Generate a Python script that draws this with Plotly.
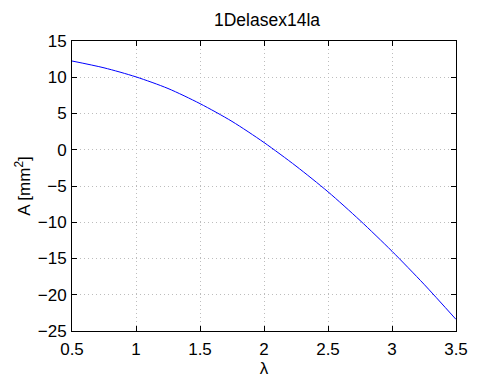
import plotly.graph_objects as go

lam = [0.5, 0.75, 1.0, 1.25, 1.5, 1.75, 2.0, 2.25, 2.5, 2.75, 3.0, 3.25, 3.5]
area = [12.24, 11.3, 10.05, 8.45, 6.36, 3.91, 1.0, -2.25, -5.8, -9.75, -14.0, -18.55, -23.4]
x_ticks = [0.5, 1, 1.5, 2, 2.5, 3, 3.5]
x_tick_text = ["0.5", "1", "1.5", "2", "2.5", "3", "3.5"]
y_ticks = [-25, -20, -15, -10, -5, 0, 5, 10, 15]
y_tick_text = ["\u221225", "\u221220", "\u221215", "\u221210", "\u22125", "0", "5", "10", "15"]

fig = go.Figure()
fig.add_trace(go.Scatter(x=lam, y=area, mode="lines", line=dict(color="#0000ff", width=1, shape="spline", smoothing=0.8)))

font = "Liberation Sans, Arial, sans-serif"
axis_common = dict(
    showline=True, linecolor="black", linewidth=1, mirror="ticks",
    ticks="inside", ticklen=5, tickcolor="black", tickwidth=1,
    showgrid=True, gridcolor="#bdbdbd", griddash="1px,3px", gridwidth=1,
    zeroline=False, tickfont=dict(family=font, size=17, color="black"),
)

fig.update_layout(
    width=480, height=383,
    margin=dict(l=72, r=18, t=41, b=39),
    paper_bgcolor="white", plot_bgcolor="white",
    showlegend=False,
    title=dict(text="1Delasex14la", x=(72 + 462) / 2 / 480, xanchor="center",
               y=1 - 20 / 383, yanchor="middle",
               font=dict(family=font, size=17.5, color="black")),
    xaxis=dict(range=[0.5, 3.5], tickvals=x_ticks, ticktext=x_tick_text,
               ticklabelstandoff=3,
               title=dict(text="\u03bb", standoff=0, font=dict(family=font, size=17, color="black")),
               **axis_common),
    yaxis=dict(range=[-25, 15], tickvals=y_ticks, ticktext=y_tick_text,
               ticklabelstandoff=1,
               title=dict(text="A [mm<sup>2</sup>]", standoff=2, font=dict(family=font, size=17, color="black")),
               **axis_common),
)

fig.write_html("out.html")
